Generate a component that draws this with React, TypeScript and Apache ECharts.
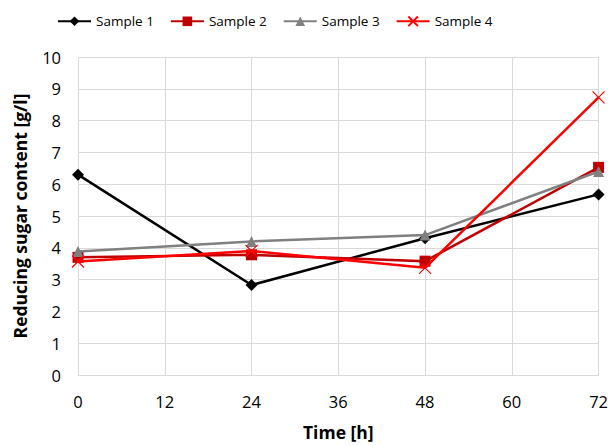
import React, { useEffect, useRef } from "react";
import * as echarts from "echarts";

const times = [0, 24, 48, 72];
const sample1 = [6.3, 2.83, 4.3, 5.68];
const sample2 = [3.7, 3.78, 3.58, 6.53];
const sample3 = [3.88, 4.2, 4.4, 6.4];
const sample4 = [3.57, 3.9, 3.37, 8.73];
const seriesNames = ["Sample 1", "Sample 2", "Sample 3", "Sample 4"];
const colors = ["#000000", "#C00000", "#808080", "#FF0000"];

const FONT = "Open Sans";

export default function App() {
  const ref = useRef<HTMLDivElement>(null);
  useEffect(() => {
    if (!ref.current) return;
    const chart = echarts.init(ref.current, undefined, { renderer: "svg" });
    const data = [sample1, sample2, sample3, sample4];
    const symbols = ["diamond", "rect", "triangle", "path://M0,0L10,10M10,0L0,10"];
    const sizes = [12, 11, 11, 12];
    chart.setOption({
      animation: false,
      textStyle: { fontFamily: FONT },
      legend: {
        top: 9,
        left: 52,
        itemWidth: 33,
        itemHeight: 12,
        itemGap: 16,
        textStyle: { fontFamily: FONT, fontSize: 13.5, color: "#000" },
        data: seriesNames,
      },
      grid: { left: 78, right: 11, top: 57, bottom: 65, containLabel: false },
      xAxis: {
        type: "value",
        min: 0,
        max: 72,
        interval: 12,
        name: "Time [h]",
        nameLocation: "middle",
        nameGap: 48,
        nameTextStyle: { fontFamily: FONT, fontSize: 17.5, fontWeight: "bold", color: "#000" },
        axisLine: { show: true, lineStyle: { color: "#d9d9d9" } },
        axisTick: { show: false },
        axisLabel: { fontFamily: FONT, fontSize: 16.5, color: "#000", margin: 18 },
        splitLine: { show: true, lineStyle: { color: "#d9d9d9" } },
      },
      yAxis: {
        type: "value",
        min: 0,
        max: 10,
        interval: 1,
        name: "Reducing sugar content [g/l]",
        nameLocation: "middle",
        nameGap: 49,
        nameTextStyle: { fontFamily: FONT, fontSize: 17.5, fontWeight: "bold", color: "#000" },
        axisLine: { show: false },
        axisTick: { show: false },
        axisLabel: { fontFamily: FONT, fontSize: 16.5, color: "#000", margin: 17 },
        splitLine: { show: true, lineStyle: { color: "#d9d9d9" } },
      },
      series: data.map((vals, i) => ({
        name: seriesNames[i],
        type: "line",
        data: times.map((t, j) => [t, vals[j]]),
        symbol: symbols[i],
        symbolSize: sizes[i],
        showAllSymbol: true,
        lineStyle: { color: colors[i], width: 2.5 },
        itemStyle: i === 3
          ? { color: "none", borderColor: colors[i], borderWidth: 1.2 }
          : { color: colors[i], borderColor: colors[i], borderWidth: 0 },
        z: 2 + i,
      })),
    });
    return () => chart.dispose();
  }, []);
  return <div ref={ref} style={{ width: 611, height: 446, position: "absolute", left: 0, top: 0 }} />;
}
